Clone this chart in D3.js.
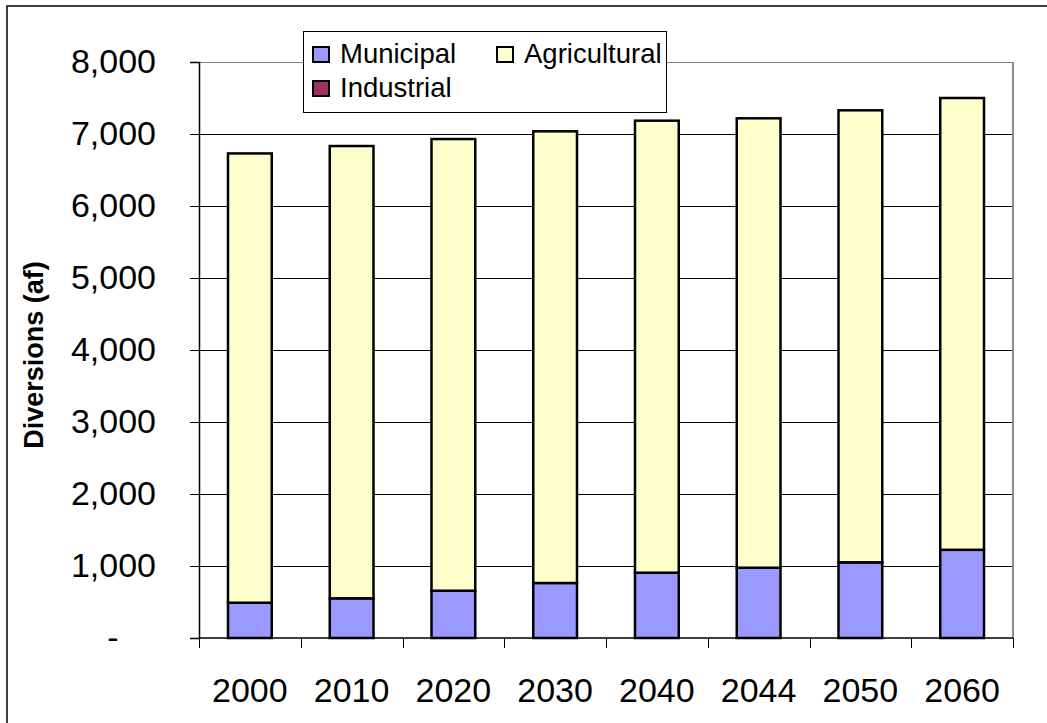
<!DOCTYPE html>
<html>
<head>
<meta charset="utf-8">
<script src="https://cdn.jsdelivr.net/npm/d3@7"></script>
<style>
  html, body { margin: 0; padding: 0; background: #fff; }
  svg { display: block; font-family: "Liberation Sans", Arial, sans-serif; }
</style>
</head>
<body>
<svg id="chart" width="1047" height="723"></svg>
<script>
// Diversions by use, acre-feet
const years = ["2000", "2010", "2020", "2030", "2040", "2044", "2050", "2060"];
const municipal = [490, 551, 657, 764, 907, 976, 1051, 1225];
const industrial = [0, 0, 0, 0, 0, 0, 0, 0];
const agricultural = [6240, 6282, 6273, 6273, 6278, 6242, 6278, 6275];
const yTicks = [0, 1000, 2000, 3000, 4000, 5000, 6000, 7000, 8000];

const seriesNames = ["Municipal", "Industrial", "Agricultural"];
const seriesColors = { Municipal: "#9999FF", Industrial: "#993366", Agricultural: "#FFFFCC" };

const rows = years.map((y, i) => ({
  year: y, Municipal: municipal[i], Industrial: industrial[i], Agricultural: agricultural[i]
}));

const svg = d3.select("#chart");
const plot = { left: 199, right: 1013, top: 62, bottom: 638 };

// outer chart frame
svg.append("rect")
  .attr("x", 7).attr("y", 6).attr("width", 1100).attr("height", 800)
  .attr("fill", "#fff").attr("stroke", "#000").attr("stroke-width", 1.5);

const x = d3.scaleBand().domain(years).range([plot.left, plot.right]).padding(0);
const y = d3.scaleLinear().domain([0, 8000]).range([plot.bottom, plot.top]);

// gridlines
svg.append("g").selectAll("line").data(yTicks.filter(t => t > 0)).join("line")
  .attr("x1", plot.left).attr("x2", plot.right)
  .attr("y1", d => Math.round(y(d)) + 0.5).attr("y2", d => Math.round(y(d)) + 0.5)
  .attr("stroke", d => d === 8000 ? "#808080" : "#000").attr("stroke-width", 1);

// plot area right border
svg.append("line")
  .attr("x1", plot.right).attr("x2", plot.right)
  .attr("y1", plot.top).attr("y2", plot.bottom)
  .attr("stroke", "#8c8c8c").attr("stroke-width", 2);

// stacked bars
const stack = d3.stack().keys(seriesNames)(rows);
const barW = x.bandwidth() * 0.43;
svg.append("g").selectAll("g").data(stack).join("g")
  .attr("fill", d => seriesColors[d.key])
  .selectAll("rect").data(d => d.filter(p => p[1] - p[0] > 0)).join("rect")
  .attr("x", d => x(d.data.year) + (x.bandwidth() - barW) / 2)
  .attr("width", barW)
  .attr("y", d => y(d[1]))
  .attr("height", d => y(d[0]) - y(d[1]))
  .attr("stroke", "#000").attr("stroke-width", 2.5);

// y axis
const yAxis = d3.axisLeft(y).tickValues(yTicks).tickSize(9).tickPadding(34)
  .tickFormat(d => d === 0 ? "-" : d3.format(",")(d));
const gy = svg.append("g").attr("transform", `translate(${plot.left},0)`).call(yAxis);
gy.select(".domain").attr("stroke", "#000").attr("stroke-width", 1.5);
gy.selectAll(".tick line").attr("stroke", "#000");
gy.selectAll(".tick text").attr("font-size", 34).attr("fill", "#000")
  .attr("font-family", "Liberation Sans, Arial, sans-serif");
gy.selectAll(".tick text").filter(d => d === 0).attr("text-anchor", "middle").attr("x", -86);

// x axis with ticks on category boundaries
const gx = svg.append("g").attr("transform", `translate(0,${plot.bottom})`);
gx.append("line").attr("x1", plot.left).attr("x2", plot.right)
  .attr("stroke", "#000").attr("stroke-width", 1.5);
const bounds = years.map(d => x(d)).concat([plot.right]);
gx.selectAll("line.tk").data(bounds).join("line").attr("class", "tk")
  .attr("x1", d => Math.round(d) + 0.5).attr("x2", d => Math.round(d) + 0.5)
  .attr("y1", 0).attr("y2", 10).attr("stroke", "#000");
gx.selectAll("text").data(years).join("text")
  .attr("x", d => x(d) + x.bandwidth() / 2)
  .attr("y", 64)
  .attr("text-anchor", "middle")
  .attr("font-size", 34)
  .text(d => d);

// y axis title
svg.append("text")
  .attr("transform", "translate(43,355) rotate(-90)")
  .attr("text-anchor", "middle")
  .attr("font-size", 27).attr("font-weight", "bold")
  .text("Diversions (af)");

// legend
const lg = svg.append("g");
lg.append("rect").attr("x", 303.5).attr("y", 31.5).attr("width", 363).attr("height", 81)
  .attr("fill", "#fff").attr("stroke", "#000").attr("stroke-width", 1);
const legendItems = [
  { key: "Municipal", x: 313, y: 47 },
  { key: "Agricultural", x: 497, y: 47 },
  { key: "Industrial", x: 313, y: 81 }
];
legendItems.forEach(it => {
  lg.append("rect").attr("x", it.x).attr("y", it.y).attr("width", 16).attr("height", 15)
    .attr("fill", seriesColors[it.key]).attr("stroke", "#000").attr("stroke-width", 2);
  lg.append("text").attr("x", it.x + 27).attr("y", it.y + 16)
    .attr("font-size", 27.5).text(it.key);
});
</script>
</body>
</html>
